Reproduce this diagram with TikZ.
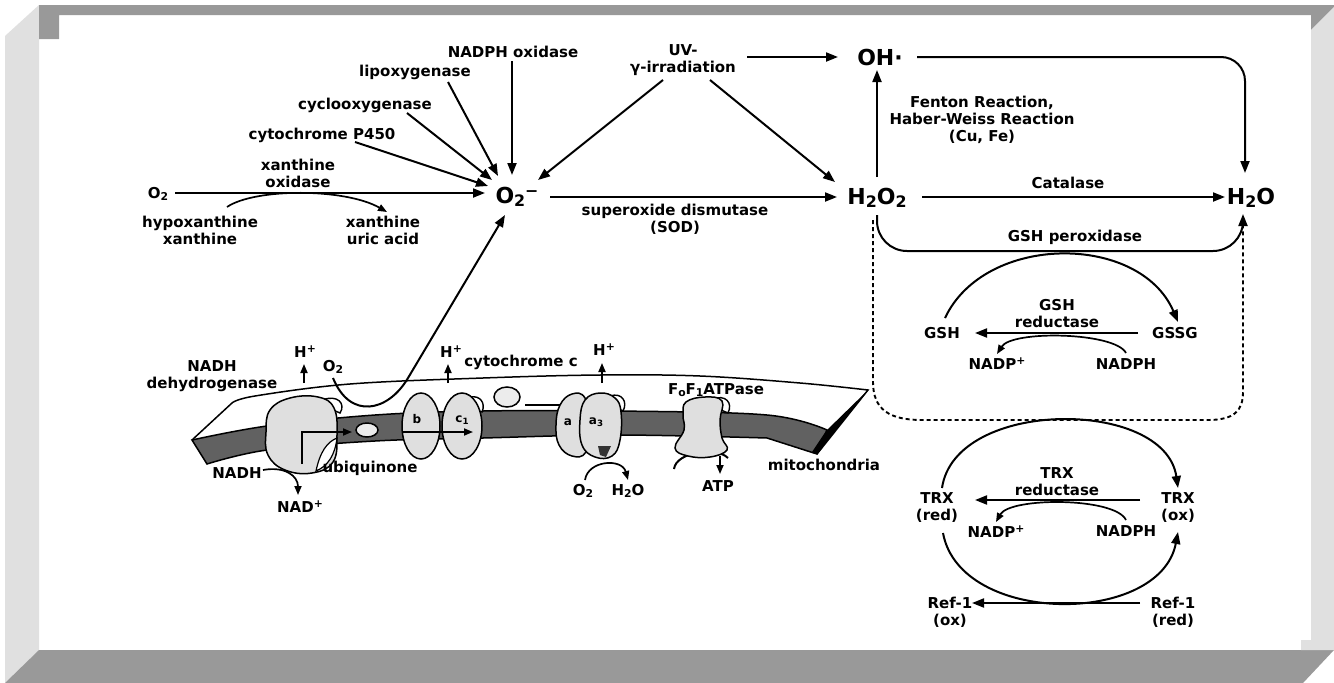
\documentclass[tikz,border=0pt]{standalone}
\usepackage{fontspec}
\setmainfont{DejaVu Sans}
\usepackage{graphicx}
\usetikzlibrary{arrows.meta,calc}
\newcommand\dn[1]{\raisebox{-0.3ex}{\scalebox{0.72}{#1}}}
\newcommand\up[1]{\raisebox{0.6ex}{\scalebox{0.72}{#1}}}
\definecolor{framedark}{HTML}{999999}
\definecolor{framelight}{HTML}{E0E0E0}
\begin{document}
\begin{tikzpicture}[x=1pt,y=-1pt,
  lbl/.style={inner sep=1pt, align=center, font=\bfseries\fontsize{15}{17}\selectfont},
  big/.style={inner sep=1pt, font=\bfseries\fontsize{22}{24}\selectfont},
  protlbl/.style={inner sep=0pt, font=\bfseries\fontsize{12}{13}\selectfont},
  arr/.style={line width=2pt, -{Triangle[length=12pt,width=9pt]}},
  arrs/.style={line width=1.7pt, -{Triangle[length=9pt,width=7pt]}},
  ln/.style={line width=2pt},
  prot/.style={draw, line width=1.5pt, fill=gray!25},
  dsh/.style={line width=1.9pt, dash pattern=on 4pt off 3pt}]
\useasboundingbox (0,0) rectangle (1334,683);
\fill[white] (0,0) rectangle (1334,683);
% frame
\fill[framelight] (5,36) -- (39,5) -- (39,650) -- (5,683) -- cycle;
\fill[framedark] (5,683) -- (39,650) -- (1334,650) -- (1303,683) -- cycle;
\fill[framedark] (39,5) -- (1334,5) -- (1334,7) -- (1311,30) -- (1311,15) -- (59,15) -- (59,39) -- (39,39) -- cycle;
\fill[framelight] (1311,30) -- (1334,7) -- (1334,650) -- (1301,650) -- (1301,640) -- (1311,640) -- cycle;

% ---------- top labels ----------
\node[big] (o2m) at (517,197) {O\dn{2}\up{−}};
\node[big] (h2o2) at (877,198) {H\dn{2}O\dn{2}};
\node[big] (h2o) at (1251,198) {H\dn{2}O};
\node[big] (oh) at (880,57) {OH·};
\node[lbl] (nadphox) at (513,52) {NADPH oxidase};
\node[lbl] (lipox) at (415,72) {lipoxygenase};
\node[lbl] (cyclo) at (365,105) {cyclooxygenase};
\node[lbl] (p450) at (322,135) {cytochrome P450};
\node[lbl] (xo) at (298,173) {xanthine\\oxidase};
\node[lbl] (o2a) at (158,194) {O\dn{2}};
\node[lbl] (hypo) at (200,230) {hypoxanthine\\xanthine};
\node[lbl] (xan) at (383,230) {xanthine\\uric acid};
\node[lbl] (uv) at (683,60) {UV-\\γ-irradiation};
\node[lbl] (sod) at (675,219) {superoxide dismutase\\(SOD)};
\node[lbl] (fenton) at (982,120) {Fenton Reaction,\\Haber-Weiss Reaction\\(Cu, Fe)};
\node[lbl] (cat) at (1068,183) {Catalase};
\node[lbl] (gpx) at (1075,237) {GSH peroxidase};
% GSH cycle
\node[lbl] (gsh) at (942,333) {GSH};
\node[lbl] (gssg) at (1175,333) {GSSG};
\node[lbl] (gr) at (1057,314) {GSH\\reductase};
\node[lbl] (nadp1) at (997,364) {NADP\up{+}};
\node[lbl] (nadph1) at (1126,364) {NADPH};
% TRX cycle
\node[lbl] (trxr) at (937,508) {TRX\\(red)};
\node[lbl] (trxo) at (1178,508) {TRX\\(ox)};
\node[lbl] (tr) at (1057,482) {TRX\\reductase};
\node[lbl] (nadp2) at (996,532) {NADP\up{+}};
\node[lbl] (nadph2) at (1126,531) {NADPH};
\node[lbl] (refo) at (950,612) {Ref-1\\(ox)};
\node[lbl] (refr) at (1173,612) {Ref-1\\(red)};

% ---------- top arrows ----------
\draw[arr] ($(nadphox)+(-1,9)$) -- ($(o2m)+(-5,-22)$);
\draw[arr] ($(lipox)+(33,10)$) -- ($(o2m)+(-19,-21)$);
\draw[arr] ($(cyclo)+(42,8)$) -- ($(o2m)+(-25,-17)$);
\draw[arr] ($(p450)+(33,7)$) -- ($(o2m)+(-29,-11)$);
\draw[arr] ($(o2a)+(17,-1)$) -- ($(o2m)+(-32,-4)$);
\draw[arrs] ($(hypo)+(27,-23)$) .. controls (255,188) and (345,188) .. ($(xan)+(4,-18)$);
\draw[arr] ($(uv)+(-20,20)$) -- ($(o2m)+(21,-17)$);
\draw[arr] ($(uv)+(27,20)$) -- ($(h2o2)+(-42,-16)$);
\draw[arr] ($(uv)+(64,-3)$) -- ($(oh)+(-42,0)$);
\draw[arr] ($(o2m)+(33,0)$) -- ($(h2o2)+(-40,-1)$);
\draw[arr] ($(h2o2)+(0,-21)$) -- ($(oh)+(-3,13)$);
\draw[arr, rounded corners=24pt] ($(oh)+(37,0)$) -| ($(h2o)+(-6,-25)$);
\draw[arr] ($(h2o2)+(45,-1)$) -- ($(h2o)+(-26,-1)$);
\draw[arr, rounded corners=30pt] ($(h2o2)+(0,17)$) |- (1060,251) -| ($(h2o)+(-8,16)$);
% dashed box
\draw[dsh] ($(h2o2)+(-4,22)$) -- (873,382) .. controls (873,410) and (890,420) .. (922,420) -- (1208,420) .. controls (1235,420) and (1243,410) .. (1243,392) -- ($(h2o)+(-8,24)$);
% GSH cycle arrows
\draw[arr] ($(gsh)+(3,-15)$) .. controls (985,233) and (1140,233) .. ($(gssg)+(3,-11)$);
\draw[arr] ($(gssg)+(-37,0)$) -- ($(gsh)+(33,0)$);
\draw[arrs] ($(nadph1)+(0,-11)$) .. controls (1115,332) and (1012,330) .. ($(nadp1)+(0,-10)$);
% TRX cycle arrows
\draw[arr] ($(trxr)+(5,-20)$) .. controls (955,398) and (1165,398) .. ($(trxo)+(0,-20)$);
\draw[arr] ($(trxo)+(-38,-8)$) -- ($(trxr)+(38,-8)$);
\draw[arrs] ($(nadph2)+(0,-11)$) .. controls (1115,497) and (1010,497) .. ($(nadp2)+(0,-10)$);
\draw[arr] ($(trxr)+(6,25)$) .. controls (960,626) and (1160,626) .. ($(trxo)+(0,24)$);
\draw[arr] ($(refr)+(-33,-9)$) -- ($(refo)+(22,-9)$);

% ---------- membrane ----------
\draw[line width=1.5pt, fill=black!62] plot[smooth, tension=0.6] coordinates {(192,440) (267,426) (375,415) (483,411) (617,411) (767,415) (827,430)} -- (817,454) -- plot[smooth, tension=0.6] coordinates {(767,438) (617,435) (483,438) (375,441) (267,450) (207,464)} -- cycle;
\draw[line width=1.5pt] (192,440) -- plot[smooth, tension=0.6] coordinates {(232,403) (255,396) (350,384) (483,378) (600,375) (700,376) (800,383) (868,390)} -- (817,454);
\fill (868,390) -- (817,454) -- (812,452) -- (826,431) -- cycle;

% complex I
\draw[line width=1.4pt, fill=white] (322,400) .. controls (338,394) and (346,404) .. (340,413) -- (333,410) -- cycle;
\draw[prot] plot[smooth cycle, tension=0.7] coordinates {(270,410) (290,398) (318,397) (334,408) (337,435) (333,462) (312,473) (285,470) (268,455) (266,432)};
\draw[line width=1.2pt, fill=white] (316,471) .. controls (320,452) and (327,442) .. (337,438) .. controls (335,455) and (328,466) .. (316,471) -- cycle;
\draw[arrs] (302,464) -- (302,432) -- (352,432);
\draw[prot, fill=gray!15] (367,430) ellipse [x radius=11, y radius=7];
% complex III
\draw[prot] (421,426) ellipse [x radius=19, y radius=33];
\draw[line width=1.4pt, fill=white] (470,397) .. controls (480,395) and (486,403) .. (482,412) -- (476,410) -- cycle;
\draw[prot] (462,426) ellipse [x radius=20, y radius=33];
\node[protlbl] (bl) at (417,419) {b};
\node[protlbl] (c1l) at (462,420) {c\dn{1}};
\draw[arrs] (403,432) -- (473,432);
% cytochrome c
\draw[prot, fill=gray!15] (507,397) ellipse [x radius=13, y radius=10];
\draw[line width=1.5pt] (525,405) -- (562,405);
% complex IV
\draw[line width=1.4pt, fill=white] (610,396) .. controls (622,392) and (628,402) .. (623,411) -- (617,408) -- cycle;
\draw[prot] plot[smooth cycle, tension=0.7] coordinates {(560,405) (572,394) (585,398) (590,425) (586,452) (572,456) (559,445) (556,425)};
\draw[prot] plot[smooth cycle, tension=0.7] coordinates {(585,400) (600,393) (615,398) (621,412) (620,440) (612,456) (595,457) (582,445) (580,420)};
\fill[black!80] (598,446) -- (611,446) -- (606,457) -- (600,455) -- cycle;
\node[protlbl] (al) at (568,422) {a};
\node[protlbl] (a3l) at (596,422) {a\dn{3}};
% ATPase
\draw[ln] (674,469) .. controls (676,452) and (716,446) .. (728,458);
\draw[line width=1.4pt, fill=white] (712,399) .. controls (726,394) and (733,403) .. (728,413) -- (721,410) -- cycle;
\draw[prot] plot[smooth cycle, tension=0.7] coordinates {(686,402) (705,397) (722,401) (720,420) (722,438) (727,450) (710,457) (688,456) (675,448) (684,430) (683,415)};

% membrane labels
\node[lbl] (ndh) at (212,376) {NADH\\dehydrogenase};
\node[lbl] (hp1) at (305,352) {H\up{+}};
\node[lbl] (o2b) at (333,367) {O\dn{2}};
\node[lbl] (hp2) at (451,352) {H\up{+}};
\node[lbl] (cytc) at (521,362) {cytochrome c};
\node[lbl] (hp3) at (604,350) {H\up{+}};
\node[lbl] (atpase) at (716,390) {F\dn{o}F\dn{1}ATPase};
\node[lbl] (mito) at (824,465) {mitochondria};
\node[lbl] (ubq) at (370,468) {ubiquinone};
\node[lbl] (nadh) at (237,473) {NADH};
\node[lbl] (nadplus) at (300,507) {NAD\up{+}};
\node[lbl] (o2c) at (583,491) {O\dn{2}};
\node[lbl] (h2oc) at (628,491) {H\dn{2}O};
\node[lbl] (atp) at (718,486) {ATP};

% membrane arrows
\draw[arrs] ($(hp1)+(-1,31)$) -- ($(hp1)+(-1,12)$);
\draw[arrs] ($(hp2)+(-3,31)$) -- ($(hp2)+(-3,12)$);
\draw[arrs] ($(hp3)+(-2,33)$) -- ($(hp3)+(-2,13)$);
\draw[arr] ($(o2b)+(0,11)$) .. controls (350,420) and (388,412) .. (408,378) -- ($(o2m)+(-12,18)$);
\draw[arrs] ($(nadh)+(26,-3)$) .. controls (285,466) and (298,476) .. ($(nadplus)+(-2,-12)$);
\draw[arrs] ($(o2c)+(2,-11)$) .. controls (588,460) and (622,458) .. ($(h2oc)+(0,-11)$);
\draw[arrs] ($(atp)+(2,-30)$) -- ($(atp)+(2,-12)$);
\end{tikzpicture}
\end{document}
